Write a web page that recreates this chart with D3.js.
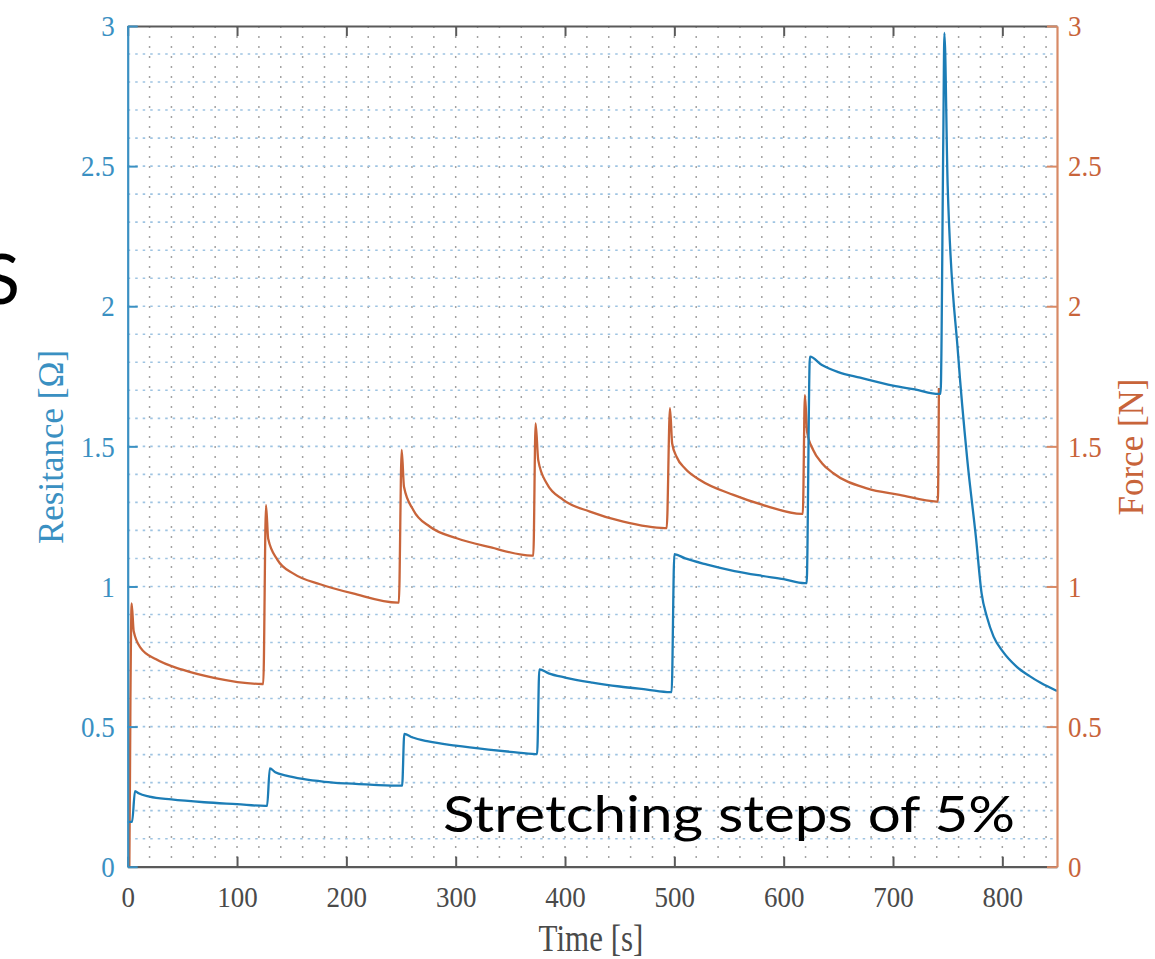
<!DOCTYPE html>
<html>
<head>
<meta charset="utf-8">
<script src="https://cdn.jsdelivr.net/npm/d3@7/dist/d3.min.js"></script>
<style>
  body { margin: 0; background: #fff; }
  svg { display: block; }
</style>
</head>
<body>
<div id="chart"></div>
<script>
// Resistance (left axis)
let resTime = [0, 4, 6.7, 10, 20, 40, 70, 100, 126,
    127.5, 130, 135, 145, 160, 180, 200, 225, 250,
    251, 253, 260, 275, 300, 330, 350, 373,
    374.5, 376.5, 385, 400, 425, 450, 475, 496,
    497.5, 500, 510, 530, 555, 580, 600, 619,
    621, 624, 635, 650, 670, 700, 720, 742,
    743.5, 746, 747, 750, 759.5, 768, 776, 781, 786, 792, 800, 813, 825, 835, 850];
let resValue = [0.16, 0.16, 0.27, 0.262, 0.25, 0.24, 0.23, 0.223, 0.217,
    0.217, 0.351, 0.337, 0.325, 0.313, 0.303, 0.297, 0.292, 0.289,
    0.289, 0.474, 0.462, 0.447, 0.432, 0.418, 0.41, 0.402,
    0.402, 0.704, 0.69, 0.675, 0.657, 0.643, 0.632, 0.623,
    0.623, 1.115, 1.1, 1.078, 1.055, 1.038, 1.026, 1.012,
    1.012, 1.82, 1.79, 1.765, 1.745, 1.717, 1.703, 1.687,
    1.687, 2.6, 2.975, 2.43, 1.83, 1.45, 1.17, 0.976, 0.89, 0.821, 0.77, 0.714, 0.68, 0.656, 0.627];

// Force (right axis)
let forceTime = [0, 1.5, 2.5, 3.6, 5.5, 12, 26, 50, 80, 123,
    124, 126.5, 128.5, 137, 152, 176, 206, 247,
    248, 250.6, 252.7, 261.2, 276.5, 300.9, 331.4, 369.5,
    371, 373.1, 375.5, 383.2, 398.4, 422.8, 453.3, 491.4,
    493, 496, 498, 502, 510, 523.4, 554, 584.4, 616.4,
    617.5, 619.4, 621.5, 627, 635, 645.4, 676, 706, 740,
    741, 742];
let forceValue = [0, 0, 0.6, 0.94, 0.84, 0.78, 0.74, 0.703, 0.673, 0.652,
    0.652, 1.29, 1.17, 1.095, 1.045, 1.008, 0.975, 0.942,
    0.942, 1.487, 1.356, 1.273, 1.213, 1.172, 1.14, 1.11,
    1.11, 1.582, 1.451, 1.368, 1.309, 1.267, 1.231, 1.208,
    1.208, 1.636, 1.51, 1.463, 1.42, 1.38, 1.327, 1.287, 1.259,
    1.259, 1.683, 1.55, 1.487, 1.44, 1.404, 1.35, 1.327, 1.303,
    1.303, 1.708];

let xTicks = [0, 100, 200, 300, 400, 500, 600, 700, 800];
let yTicks = [0, 0.5, 1, 1.5, 2, 2.5, 3];
let xGrid = d3.range(20, 850, 20);
let yGrid = d3.range(1, 30).map(function(d) { return d / 10; });

let blue = "#1c7db6";
let blueAxis = "#3a90c2";
let orange = "#c8643a";
let orangeAxis = "#d88a66";
let grey = "#5a5a5a";

let plot = {left: 127.7, right: 1057, top: 26, bottom: 866.7};

let svg = d3.select("#chart").append("svg")
    .attr("width", 1155)
    .attr("height", 959);

let x = d3.scaleLinear().domain([0, 850]).range([plot.left, plot.right]);
let yL = d3.scaleLinear().domain([0, 3]).range([plot.bottom, plot.top]);
let yR = d3.scaleLinear().domain([0, 3]).range([plot.bottom, plot.top]);

// grid
svg.append("g").selectAll("line")
    .data(xGrid)
    .enter().append("line")
    .attr("x1", function(d) { return x(d); })
    .attr("x2", function(d) { return x(d); })
    .attr("y1", plot.top)
    .attr("y2", plot.bottom)
    .attr("stroke", "#a3a3a3")
    .attr("stroke-width", 1.5)
    .attr("stroke-dasharray", "2,8");

svg.append("g").selectAll("line")
    .data(yGrid)
    .enter().append("line")
    .attr("x1", plot.left)
    .attr("x2", plot.right)
    .attr("y1", function(d) { return yL(d); })
    .attr("y2", function(d) { return yL(d); })
    .attr("stroke", "#9ec4e2")
    .attr("stroke-width", 1.6)
    .attr("stroke-dasharray", "2.5,5");

// lines
let lineR = d3.line()
    .curve(d3.curveMonotoneX)
    .x(function(d) { return x(d[0]); })
    .y(function(d) { return yR(d[1]); });
let lineL = d3.line()
    .curve(d3.curveMonotoneX)
    .x(function(d) { return x(d[0]); })
    .y(function(d) { return yL(d[1]); });

svg.append("path")
    .datum(d3.zip(forceTime, forceValue))
    .attr("fill", "none")
    .attr("stroke", orange)
    .attr("stroke-width", 2.3)
    .attr("stroke-linejoin", "round")
    .attr("d", lineR);

svg.append("path")
    .datum(d3.zip(resTime, resValue))
    .attr("fill", "none")
    .attr("stroke", blue)
    .attr("stroke-width", 2.3)
    .attr("stroke-linejoin", "round")
    .attr("d", lineL);

// axes
let tickFont = "Liberation Serif, DejaVu Serif, serif";

let bottom = svg.append("g")
    .attr("transform", "translate(0," + plot.bottom + ")")
    .attr("color", grey)
    .call(d3.axisBottom(x).tickValues(xTicks).tickSize(-10).tickSizeOuter(0).tickFormat(d3.format("d")));
bottom.selectAll("text")
    .attr("y", 40 / 1.12).attr("dy", 0)
    .attr("transform", "scale(1,1.12)")
    .attr("fill", "#4a4a4a")
    .attr("font-family", tickFont)
    .attr("font-size", "27px");

svg.append("g")
    .attr("transform", "translate(0," + plot.top + ")")
    .attr("color", grey)
    .call(d3.axisTop(x).tickValues(xTicks).tickSize(-10).tickSizeOuter(0).tickFormat(""));

let left = svg.append("g")
    .attr("transform", "translate(" + plot.left + ",0)")
    .attr("color", blueAxis)
    .call(d3.axisLeft(yL).tickValues(yTicks).tickSize(-10).tickPadding(13).tickSizeOuter(0).tickFormat(d3.format("")));
left.selectAll("text")
    .attr("transform", "scale(1,1.12)")
    .attr("font-family", tickFont)
    .attr("font-size", "27px");

let right = svg.append("g")
    .attr("transform", "translate(" + plot.right + ",0)")
    .attr("color", orangeAxis)
    .call(d3.axisRight(yR).tickValues(yTicks).tickSize(-10).tickPadding(11).tickSizeOuter(0).tickFormat(d3.format("")));
right.selectAll("text")
    .attr("transform", "scale(1,1.12)")
    .attr("fill", orange)
    .attr("font-family", tickFont)
    .attr("font-size", "27px");

svg.selectAll(".domain").attr("stroke-width", 2.2);
svg.selectAll(".tick line").attr("stroke-width", 2);

// axis labels
svg.append("text")
    .attr("transform", "translate(591,951) scale(1,1.2)")
    .attr("text-anchor", "middle")
    .attr("font-family", tickFont)
    .attr("font-size", "31px")
    .attr("fill", "#4a4a4a")
    .text("Time [s]");

svg.append("text")
    .attr("transform", "translate(63,447) rotate(-90)")
    .attr("text-anchor", "middle")
    .attr("font-family", tickFont)
    .attr("font-size", "35px")
    .attr("fill", blueAxis)
    .text("Resitance [Ω]");

svg.append("text")
    .attr("transform", "translate(1143,447) rotate(-90)")
    .attr("text-anchor", "middle")
    .attr("font-family", tickFont)
    .attr("font-size", "35px")
    .attr("fill", orange)
    .text("Force [N]");

// slide overlay text
svg.append("text")
    .attr("x", 443)
    .attr("y", 832)
    .attr("font-family", "Lato, Open Sans, sans-serif")
    .attr("font-size", "51px")
    .attr("textLength", 572)
    .attr("lengthAdjust", "spacingAndGlyphs")
    .attr("fill", "#000")
    .text("Stretching steps of 5%");

svg.append("text")
    .attr("x", -18)
    .attr("y", 304)
    .attr("font-family", "Lato, Open Sans, sans-serif")
    .attr("font-size", "70px")
    .attr("fill", "#000")
    .text("S");
</script>
</body>
</html>
